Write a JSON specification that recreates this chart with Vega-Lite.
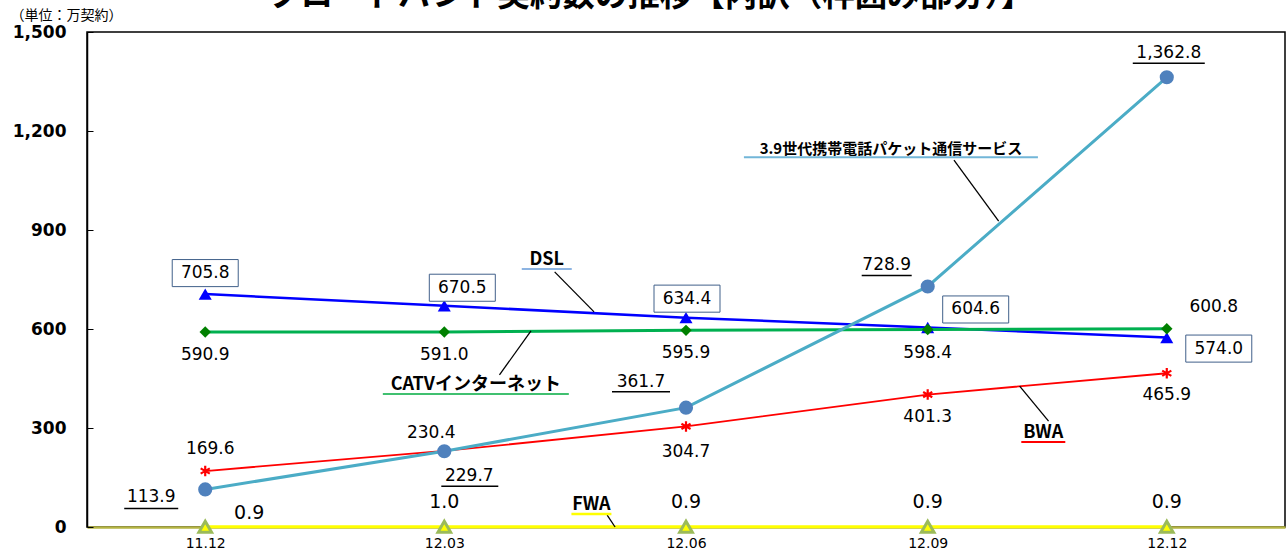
{
  "$schema": "https://vega.github.io/schema/vega-lite/v6.json",
  "width": 1198,
  "height": 495,
  "autosize": {"type": "none"},
  "padding": {"left": 87, "top": 32, "right": 2, "bottom": 22},
  "background": "white",
  "config": {"view": {"stroke": "black", "strokeWidth": 1.5}, "font": "DejaVu Sans"},
  "title": {"text": "ブロードバンド契約数の推移【内訳（枠囲み部分）】", "font": "Noto Sans CJK JP", "fontSize": 32.5, "fontWeight": "bold", "anchor": "start", "frame": "group", "dx": 181, "dy": 30, "offset": 0, "baseline": "alphabetic", "color": "black"},
  "datasets": {
    "main": [
      {"series": "LTE", "p": "11.12", "date": "2011-12-01", "value": 113.9},
      {"series": "LTE", "p": "12.03", "date": "2012-03-01", "value": 229.7},
      {"series": "LTE", "p": "12.06", "date": "2012-06-01", "value": 361.7},
      {"series": "LTE", "p": "12.09", "date": "2012-09-01", "value": 728.9},
      {"series": "LTE", "p": "12.12", "date": "2012-12-01", "value": 1362.8},
      {"series": "DSL", "p": "11.12", "date": "2011-12-01", "value": 705.8},
      {"series": "DSL", "p": "12.03", "date": "2012-03-01", "value": 670.5},
      {"series": "DSL", "p": "12.06", "date": "2012-06-01", "value": 634.4},
      {"series": "DSL", "p": "12.09", "date": "2012-09-01", "value": 604.6},
      {"series": "DSL", "p": "12.12", "date": "2012-12-01", "value": 574.0},
      {"series": "CATV", "p": "11.12", "date": "2011-12-01", "value": 590.9},
      {"series": "CATV", "p": "12.03", "date": "2012-03-01", "value": 591.0},
      {"series": "CATV", "p": "12.06", "date": "2012-06-01", "value": 595.9},
      {"series": "CATV", "p": "12.09", "date": "2012-09-01", "value": 598.4},
      {"series": "CATV", "p": "12.12", "date": "2012-12-01", "value": 600.8},
      {"series": "BWA", "p": "11.12", "date": "2011-12-01", "value": 169.6},
      {"series": "BWA", "p": "12.03", "date": "2012-03-01", "value": 230.4},
      {"series": "BWA", "p": "12.06", "date": "2012-06-01", "value": 304.7},
      {"series": "BWA", "p": "12.09", "date": "2012-09-01", "value": 401.3},
      {"series": "BWA", "p": "12.12", "date": "2012-12-01", "value": 465.9},
      {"series": "FWA", "p": "11.12", "date": "2011-12-01", "value": 0.9},
      {"series": "FWA", "p": "12.03", "date": "2012-03-01", "value": 1.0},
      {"series": "FWA", "p": "12.06", "date": "2012-06-01", "value": 0.9},
      {"series": "FWA", "p": "12.09", "date": "2012-09-01", "value": 0.9},
      {"series": "FWA", "p": "12.12", "date": "2012-12-01", "value": 0.9}
    ],
    "ann": [
      {"kind": "label", "key": "LTE", "label": "3.9世代携帯電話パケット通信サービス", "date": "2012-08-18", "value": 1145},
      {"kind": "label", "key": "DSL", "label": "DSL", "date": "2012-04-09", "value": 809},
      {"kind": "label", "key": "CATV", "label": "CATVインターネット", "date": "2012-03-13", "value": 430},
      {"kind": "label", "key": "BWA", "label": "BWA", "date": "2012-10-15", "value": 285},
      {"kind": "label", "key": "FWA", "label": "FWA", "date": "2012-04-26", "value": 67},
      {"kind": "leader", "key": "LTE", "label": "", "date": "2012-09-11", "value": 1112},
      {"kind": "leader", "key": "LTE", "label": "", "date": "2012-09-28", "value": 927},
      {"kind": "leader", "key": "DSL", "label": "", "date": "2012-04-12", "value": 773},
      {"kind": "leader", "key": "DSL", "label": "", "date": "2012-04-27", "value": 652},
      {"kind": "leader", "key": "CATV", "label": "", "date": "2012-03-22", "value": 461},
      {"kind": "leader", "key": "CATV", "label": "", "date": "2012-04-03", "value": 594},
      {"kind": "leader", "key": "BWA", "label": "", "date": "2012-10-06", "value": 427},
      {"kind": "leader", "key": "BWA", "label": "", "date": "2012-10-17", "value": 321},
      {"kind": "leader", "key": "FWA", "label": "", "date": "2012-05-02", "value": 36},
      {"kind": "leader", "key": "FWA", "label": "", "date": "2012-05-05", "value": 0}
    ]
  },
  "data": {"name": "main", "format": {"parse": {"date": "date"}}},
  "encoding": {
    "x": {
      "field": "date", "type": "temporal",
      "scale": {"type": "utc", "domain": [{"year": 2011, "month": 10, "date": 17, "utc": true}, {"year": 2013, "month": 1, "date": 15, "utc": true}]},
      "axis": {
        "values": [
          {"year": 2011, "month": 12, "date": 1, "utc": true},
          {"year": 2012, "month": 3, "date": 1, "utc": true},
          {"year": 2012, "month": 6, "date": 1, "utc": true},
          {"year": 2012, "month": 9, "date": 1, "utc": true},
          {"year": 2012, "month": 12, "date": 1, "utc": true}
        ],
        "labelExpr": "utcFormat(datum.value, '%y.%m')",
        "title": null, "ticks": false, "grid": false,
        "domainColor": "#B5B543", "domainWidth": 2.5,
        "labelFont": "DejaVu Sans", "labelFontSize": 14, "labelColor": "black", "labelPadding": 9
      }
    },
    "y": {
      "field": "value", "type": "quantitative",
      "scale": {"domain": [0, 1500], "nice": false},
      "axis": {
        "values": [0, 300, 600, 900, 1200, 1500], "format": ",.0f", "grid": false,
        "domainColor": "black", "domainWidth": 1.5, "tickColor": "black", "tickSize": -6, "tickWidth": 1,
        "labelFont": "DejaVu Sans", "labelFontSize": 17, "labelFontWeight": "bold", "labelColor": "black", "labelPadding": 27,
        "title": "（単位：万契約）", "titleAngle": 0, "titleAlign": "left", "titleBaseline": "middle",
        "titleX": -77, "titleY": -17, "titleFont": "Noto Sans CJK JP", "titleFontSize": 14, "titleFontWeight": "normal", "titleColor": "black"
      }
    }
  },
  "layer": [
    {"transform": [{"filter": "datum.series=='FWA'"}], "mark": {"type": "line", "color": "#FFFF00", "strokeWidth": 3}},
    {"transform": [{"filter": "datum.series=='BWA'"}], "mark": {"type": "line", "color": "#FF0000", "strokeWidth": 1.8}},
    {"transform": [{"filter": "datum.series=='DSL'"}], "mark": {"type": "line", "color": "#0000FF", "strokeWidth": 2.5}},
    {"transform": [{"filter": "datum.series=='CATV'"}], "mark": {"type": "line", "color": "#00B050", "strokeWidth": 3}},
    {"transform": [{"filter": "datum.series=='LTE'"}], "mark": {"type": "line", "color": "#4BACC6", "strokeWidth": 3}},

    {"transform": [{"filter": "datum.series=='FWA'"}], "mark": {"type": "point", "shape": "triangle-up", "filled": true, "fill": "#FFFF00", "stroke": "#9BBB59", "strokeWidth": 3, "size": 160, "opacity": 1}},
    {"transform": [{"filter": "datum.series=='BWA'"}], "mark": {"type": "point", "shape": "M0,-1V1M-0.87,-0.5L0.87,0.5M-0.87,0.5L0.87,-0.5", "filled": false, "stroke": "#FF0000", "strokeWidth": 2.2, "size": 110, "opacity": 1}},
    {"transform": [{"filter": "datum.series=='DSL'"}], "mark": {"type": "point", "shape": "triangle-up", "filled": true, "fill": "#0000FF", "size": 170, "opacity": 1}},
    {"transform": [{"filter": "datum.series=='CATV'"}], "mark": {"type": "point", "shape": "diamond", "filled": true, "fill": "#008000", "size": 130, "opacity": 1}},
    {"transform": [{"filter": "datum.series=='LTE'"}], "mark": {"type": "point", "shape": "circle", "filled": true, "fill": "#4F81BD", "size": 200, "opacity": 1}},

    {"transform": [{"filter": "datum.series=='LTE' && datum.p=='11.12'"}], "mark": {"type": "text", "fontSize": 17, "color": "black", "dx": -54, "dy": 8}, "encoding": {"text": {"field": "value", "type": "quantitative", "format": ",.1f"}}},
    {"transform": [{"filter": "datum.series=='LTE' && datum.p=='11.12'"}], "mark": {"type": "rule", "color": "black", "strokeWidth": 1.5, "xOffset": -81, "x2Offset": -27, "yOffset": 19}, "encoding": {"x2": {"field": "date"}}},
    {"transform": [{"filter": "datum.series=='LTE' && datum.p=='12.03'"}], "mark": {"type": "text", "fontSize": 17, "color": "black", "dx": 25, "dy": 25}, "encoding": {"text": {"field": "value", "type": "quantitative", "format": ",.1f"}}},
    {"transform": [{"filter": "datum.series=='LTE' && datum.p=='12.03'"}], "mark": {"type": "rule", "color": "black", "strokeWidth": 1.5, "xOffset": -3, "x2Offset": 54, "yOffset": 35}, "encoding": {"x2": {"field": "date"}}},
    {"transform": [{"filter": "datum.series=='LTE' && datum.p=='12.06'"}], "mark": {"type": "text", "fontSize": 17, "color": "black", "dx": -45, "dy": -26}, "encoding": {"text": {"field": "value", "type": "quantitative", "format": ",.1f"}}},
    {"transform": [{"filter": "datum.series=='LTE' && datum.p=='12.06'"}], "mark": {"type": "rule", "color": "black", "strokeWidth": 1.5, "xOffset": -74, "x2Offset": -16, "yOffset": -16}, "encoding": {"x2": {"field": "date"}}},
    {"transform": [{"filter": "datum.series=='LTE' && datum.p=='12.09'"}], "mark": {"type": "text", "fontSize": 17, "color": "black", "dx": -41, "dy": -21}, "encoding": {"text": {"field": "value", "type": "quantitative", "format": ",.1f"}}},
    {"transform": [{"filter": "datum.series=='LTE' && datum.p=='12.09'"}], "mark": {"type": "rule", "color": "black", "strokeWidth": 1.5, "xOffset": -66, "x2Offset": -16, "yOffset": -11}, "encoding": {"x2": {"field": "date"}}},
    {"transform": [{"filter": "datum.series=='LTE' && datum.p=='12.12'"}], "mark": {"type": "text", "fontSize": 17, "color": "black", "dx": 2, "dy": -24}, "encoding": {"text": {"field": "value", "type": "quantitative", "format": ",.1f"}}},
    {"transform": [{"filter": "datum.series=='LTE' && datum.p=='12.12'"}], "mark": {"type": "rule", "color": "black", "strokeWidth": 1.5, "xOffset": -34, "x2Offset": 38, "yOffset": -14}, "encoding": {"x2": {"field": "date"}}},

    {"transform": [{"filter": "datum.series=='DSL' && datum.p=='11.12'"}], "mark": {"type": "point", "shape": "M-1,-0.41H1V0.41H-1Z", "size": 4356, "filled": true, "fill": "white", "stroke": "#41608A", "strokeWidth": 1, "opacity": 1, "yOffset": -21}},
    {"transform": [{"filter": "datum.series=='DSL' && datum.p=='11.12'"}], "mark": {"type": "text", "fontSize": 17, "color": "black", "dy": -21}, "encoding": {"text": {"field": "value", "type": "quantitative", "format": ",.1f"}}},
    {"transform": [{"filter": "datum.series=='DSL' && datum.p=='12.03'"}], "mark": {"type": "point", "shape": "M-1,-0.41H1V0.41H-1Z", "size": 4356, "filled": true, "fill": "white", "stroke": "#41608A", "strokeWidth": 1, "opacity": 1, "xOffset": 18, "yOffset": -18}},
    {"transform": [{"filter": "datum.series=='DSL' && datum.p=='12.03'"}], "mark": {"type": "text", "fontSize": 17, "color": "black", "dx": 18, "dy": -18}, "encoding": {"text": {"field": "value", "type": "quantitative", "format": ",.1f"}}},
    {"transform": [{"filter": "datum.series=='DSL' && datum.p=='12.06'"}], "mark": {"type": "point", "shape": "M-1,-0.41H1V0.41H-1Z", "size": 4356, "filled": true, "fill": "white", "stroke": "#41608A", "strokeWidth": 1, "opacity": 1, "xOffset": 1, "yOffset": -19}},
    {"transform": [{"filter": "datum.series=='DSL' && datum.p=='12.06'"}], "mark": {"type": "text", "fontSize": 17, "color": "black", "dx": 1, "dy": -19}, "encoding": {"text": {"field": "value", "type": "quantitative", "format": ",.1f"}}},
    {"transform": [{"filter": "datum.series=='DSL' && datum.p=='12.09'"}], "mark": {"type": "point", "shape": "M-1,-0.41H1V0.41H-1Z", "size": 4356, "filled": true, "fill": "white", "stroke": "#41608A", "strokeWidth": 1, "opacity": 1, "xOffset": 48, "yOffset": -18}},
    {"transform": [{"filter": "datum.series=='DSL' && datum.p=='12.09'"}], "mark": {"type": "text", "fontSize": 17, "color": "black", "dx": 48, "dy": -18}, "encoding": {"text": {"field": "value", "type": "quantitative", "format": ",.1f"}}},
    {"transform": [{"filter": "datum.series=='DSL' && datum.p=='12.12'"}], "mark": {"type": "point", "shape": "M-1,-0.41H1V0.41H-1Z", "size": 4356, "filled": true, "fill": "white", "stroke": "#41608A", "strokeWidth": 1, "opacity": 1, "xOffset": 52, "yOffset": 11}},
    {"transform": [{"filter": "datum.series=='DSL' && datum.p=='12.12'"}], "mark": {"type": "text", "fontSize": 17, "color": "black", "dx": 52, "dy": 11}, "encoding": {"text": {"field": "value", "type": "quantitative", "format": ",.1f"}}},

    {"transform": [{"filter": "datum.series=='CATV' && datum.p!='12.12'"}], "mark": {"type": "text", "fontSize": 17, "color": "black", "dy": 23}, "encoding": {"text": {"field": "value", "type": "quantitative", "format": ",.1f"}}},
    {"transform": [{"filter": "datum.series=='CATV' && datum.p=='12.12'"}], "mark": {"type": "text", "fontSize": 17, "color": "black", "dx": 47, "dy": -22}, "encoding": {"text": {"field": "value", "type": "quantitative", "format": ",.1f"}}},

    {"transform": [{"filter": "datum.series=='BWA' && datum.p=='11.12'"}], "mark": {"type": "text", "fontSize": 17, "color": "black", "dx": 5, "dy": -22}, "encoding": {"text": {"field": "value", "type": "quantitative", "format": ",.1f"}}},
    {"transform": [{"filter": "datum.series=='BWA' && datum.p=='12.03'"}], "mark": {"type": "text", "fontSize": 17, "color": "black", "dx": -13, "dy": -18}, "encoding": {"text": {"field": "value", "type": "quantitative", "format": ",.1f"}}},
    {"transform": [{"filter": "datum.series=='BWA' && datum.p=='12.06'"}], "mark": {"type": "text", "fontSize": 17, "color": "black", "dy": 26}, "encoding": {"text": {"field": "value", "type": "quantitative", "format": ",.1f"}}},
    {"transform": [{"filter": "datum.series=='BWA' && (datum.p=='12.09' || datum.p=='12.12')"}], "mark": {"type": "text", "fontSize": 17, "color": "black", "dy": 22}, "encoding": {"text": {"field": "value", "type": "quantitative", "format": ",.1f"}}},

    {"transform": [{"filter": "datum.series=='FWA' && datum.p=='11.12'"}], "mark": {"type": "text", "fontSize": 19, "color": "black", "dx": 44, "dy": -14}, "encoding": {"text": {"field": "value", "type": "quantitative", "format": ",.1f"}}},
    {"transform": [{"filter": "datum.series=='FWA' && datum.p!='11.12'"}], "mark": {"type": "text", "fontSize": 19, "color": "black", "dy": -25}, "encoding": {"text": {"field": "value", "type": "quantitative", "format": ",.1f"}}},

    {"data": {"name": "ann", "format": {"parse": {"date": "date"}}}, "transform": [{"filter": "datum.kind=='leader'"}], "mark": {"type": "line", "color": "black", "strokeWidth": 1.3}, "encoding": {"detail": {"field": "key", "type": "nominal"}}},

    {"data": {"name": "ann", "format": {"parse": {"date": "date"}}}, "transform": [{"filter": "datum.kind=='label' && datum.key=='LTE'"}], "mark": {"type": "rule", "color": "#72B6D8", "strokeWidth": 2, "xOffset": -147, "x2Offset": 147, "yOffset": 8}, "encoding": {"x2": {"field": "date"}}},
    {"data": {"name": "ann", "format": {"parse": {"date": "date"}}}, "transform": [{"filter": "datum.kind=='label' && datum.key=='DSL'"}], "mark": {"type": "rule", "color": "#8DB4E2", "strokeWidth": 2, "xOffset": -25, "x2Offset": 25, "yOffset": 9}, "encoding": {"x2": {"field": "date"}}},
    {"data": {"name": "ann", "format": {"parse": {"date": "date"}}}, "transform": [{"filter": "datum.kind=='label' && datum.key=='CATV'"}], "mark": {"type": "rule", "color": "#40C070", "strokeWidth": 2, "xOffset": -93, "x2Offset": 93, "yOffset": 9}, "encoding": {"x2": {"field": "date"}}},
    {"data": {"name": "ann", "format": {"parse": {"date": "date"}}}, "transform": [{"filter": "datum.kind=='label' && datum.key=='BWA'"}], "mark": {"type": "rule", "color": "#FF0000", "strokeWidth": 2, "xOffset": -22, "x2Offset": 22, "yOffset": 9}, "encoding": {"x2": {"field": "date"}}},
    {"data": {"name": "ann", "format": {"parse": {"date": "date"}}}, "transform": [{"filter": "datum.kind=='label' && datum.key=='FWA'"}], "mark": {"type": "rule", "color": "#FFFF00", "strokeWidth": 2.5, "xOffset": -20, "x2Offset": 20, "yOffset": 9}, "encoding": {"x2": {"field": "date"}}},
    {"data": {"name": "ann", "format": {"parse": {"date": "date"}}}, "transform": [{"filter": "datum.kind=='label' && datum.key=='LTE'"}], "mark": {"type": "text", "font": "Noto Sans CJK JP", "fontWeight": "bold", "fontSize": 15, "color": "black"}, "encoding": {"text": {"field": "label"}}},
    {"data": {"name": "ann", "format": {"parse": {"date": "date"}}}, "transform": [{"filter": "datum.kind=='label' && datum.key!='LTE'"}], "mark": {"type": "text", "font": "Noto Sans CJK JP", "fontWeight": "bold", "fontSize": 18, "color": "black"}, "encoding": {"text": {"field": "label"}}}
  ]
}
